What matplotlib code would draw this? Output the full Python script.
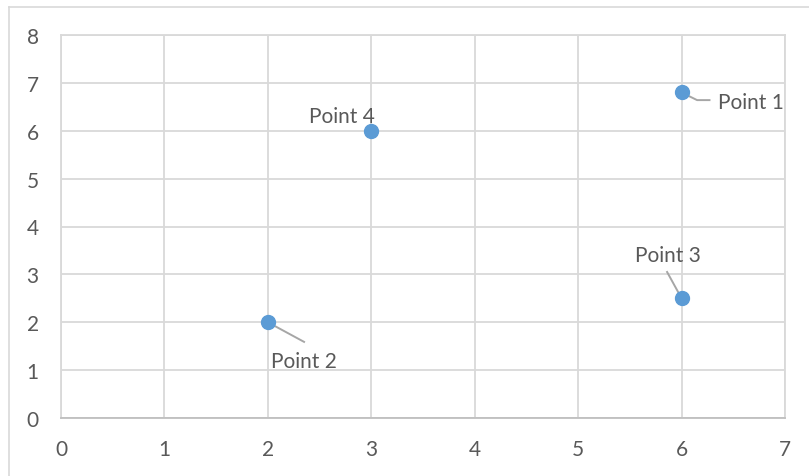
import matplotlib
matplotlib.use('Agg')
import matplotlib.pyplot as plt
from matplotlib.lines import Line2D

rcParams = matplotlib.rcParams
rcParams['font.family'] = ['Lato', 'DejaVu Sans']
rcParams['font.size'] = 12

# scatter values and their labels
xs = [6, 2, 6, 3]
ys = [6.8, 2, 2.5, 6]
labels = ['Point 1', 'Point 2', 'Point 3', 'Point 4']

# label placement (data coords) and leader-line paths
label_pos = [(6.35, 6.60, 'left'), (2.03, 1.19, 'left'), (5.87, 3.40, 'center'), (3.03, 6.30, 'right')]
leaders = [[(6.15, 6.64), (6.27, 6.64)], [(2.35, 1.59)], [(5.86, 3.05)], []]

txt = '#595959'
grid = '#d9d9d9'

fig = plt.figure(figsize=(8.09, 4.77), dpi=100)
ax = fig.add_axes([61/809, 1 - 419/477, (785 - 61)/809, (419 - 36)/477])

# outer chart border (top and left only visible)
fig.add_artist(Line2D([9/809, 1], [1 - 8/477, 1 - 8/477], color=grid, lw=1.2))
fig.add_artist(Line2D([9/809, 9/809], [0, 1 - 8/477], color=grid, lw=1.2))

ax.set_xlim(0, 7)
ax.set_ylim(0, 8)
ax.set_xticks(range(0, 8))
ax.set_yticks(range(0, 9))
ax.grid(True, color=grid, lw=1.3)
ax.set_axisbelow(True)
for s in ['top', 'right', 'left']:
    ax.spines[s].set_color(grid)
    ax.spines[s].set_linewidth(1.3)
ax.spines['bottom'].set_color('#bfbfbf')
ax.spines['bottom'].set_linewidth(1.3)
ax.tick_params(length=0, colors=txt, labelsize=15)
ax.tick_params(axis='x', pad=15)
ax.tick_params(axis='y', pad=16)

for x, y, lab, (tx, ty, ha), lead in zip(xs, ys, labels, label_pos, leaders):
    if lead:
        px = [x] + [p[0] for p in lead]
        py = [y] + [p[1] for p in lead]
        ax.plot(px, py, color='#a6a6a6', lw=1.4, zorder=2, clip_on=False)
    ax.text(tx, ty, lab, ha=ha, va='center', color=txt, fontsize=15)

ax.plot(xs, ys, 'o', color='#5b9bd5', ms=10, mec='#5b9bd5', zorder=3, clip_on=False)

fig.savefig('out.png', dpi=100)
